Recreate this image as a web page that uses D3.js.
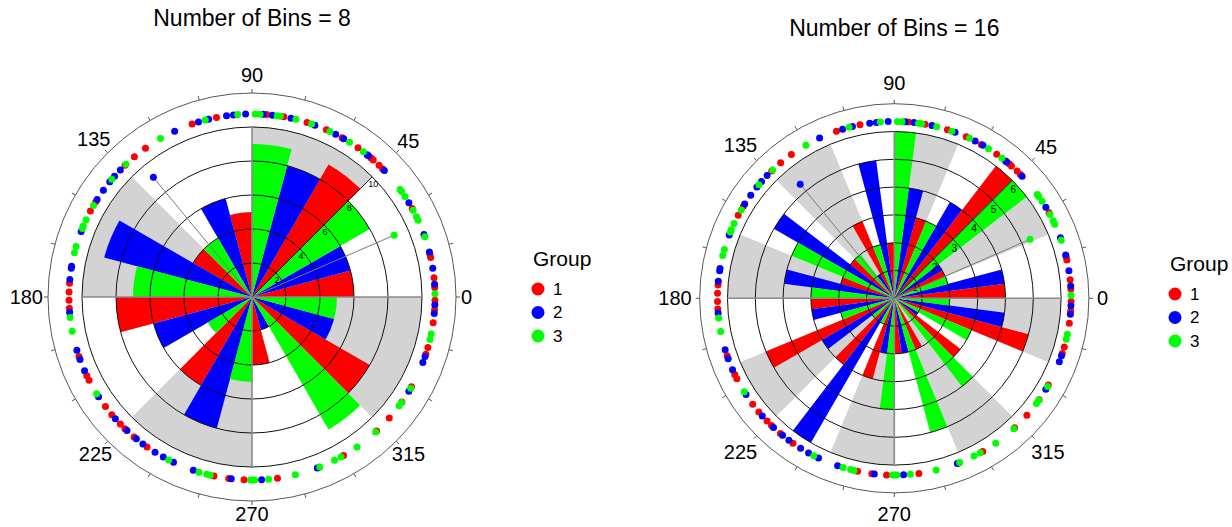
<!DOCTYPE html>
<html><head><meta charset="utf-8">
<script src="https://cdn.jsdelivr.net/npm/d3@7"></script>
<style>
body{margin:0;background:#fff}
svg{display:block}
text{font-family:"Liberation Sans",Arial,sans-serif;fill:#000}
</style>
</head><body>
<svg id="chart" width="1232" height="527"></svg>
<script>
// ---------- data ----------
const groupNames = ["1", "2", "3"];
const groupColors = ["#ff0000", "#0000ff", "#00ff00"];

// counts per bin (8 bins of 45 deg)
const red8   = [6, 9, 5, 4, 8, 6, 4, 8];
const blue8  = [6, 8, 6, 9, 6, 8, 2, 5];
const green8 = [8, 9, 4, 7, 3, 5, 9, 5];

// counts per bin (16 bins of 22.5 deg)
const red16   = [4, 2, 6, 3, 2, 3, 2, 2, 3, 5, 3, 3, 2, 2, 3, 5];
const blue16  = [4, 2, 4, 4, 5, 1, 5, 4, 3, 3, 6, 2, 2, 0, 1, 4];
const green16 = [2, 6, 3, 6, 2, 2, 4, 3, 2, 1, 1, 4, 5, 4, 3, 2];

// raw observations (degrees)
const redAngles = [3, 6, 12.5, 13.5, 28.9, 44.5, 46, 48.5, 49.4, 54.6, 60.5, 66,
  72.5, 80, 85.4, 101.2, 109.1, 125.6, 130, 133.9, 148.6, 152, 175.7, 178.4,
  181, 183.5, 199, 205.5, 207.1, 216.8, 220, 224, 226, 229.9, 235, 258, 262.7, 267.5,
  278, 291.5, 300, 312.9, 318.6, 325, 330.6, 341.8, 344, 351.9, 356, 359];
const blueAngles = [4, 9, 14.2, 20, 31, 43.7, 50.5, 51, 59.9, 62.8, 69.9, 77.7, 83.6, 86.5,
  92, 95.8, 98, 103.7, 107, 115, 136, 138.7, 141, 144.3, 147.8, 159, 170.3, 171, 174.5,
  184.8, 196.9, 200, 203.8, 213, 221.7, 226.9, 230.8, 233.4, 238, 241, 244.6,
  251.3, 263.5, 273, 290.9, 329, 339, 341, 354.8, 357.6];
const greenAngles = [1, 19.2, 24.8, 26, 28.3, 33.3, 35.2, 36, 52.5, 57.8, 64.8,
  71, 76.1, 81.1, 82.1, 87.5, 89, 94.5, 104.8, 120, 133.5, 140, 150, 155, 157.2,
  158, 164, 166, 186.4, 190.8, 211.9, 242.9, 253.2, 255.7, 256.8, 269.5,
  270.3, 270.8, 275.2, 283.7, 291.7, 296.8, 299.1, 305, 312.5, 323.5, 324.8, 330.1, 346.6, 348.3];

// mean direction markers (group 2 and 3)
const meanGroups = [1, 2];
const meanAngles = [129.5, 23.5];
const meanLengthFrac = [0.76, 0.76];

const angleTicks = [0, 45, 90, 135, 180, 225, 270, 315];
const minorAngleStep = 15;
const radialTicks8 = [2, 4, 6, 8, 10];
const radialTicks16 = [1, 2, 3, 4, 5, 6];

// ---------- drawing ----------
const svg = d3.select("#chart");
const rad = d => d * Math.PI / 180;

function drawRose(o) {
  const g = svg.append("g").attr("transform", `translate(${o.cx},${o.cy})`);
  const r = d3.scaleLinear().domain([0, o.max]).range([0, o.maxPx]);
  const outer = r(o.outerVal);
  const binW = 360 / o.counts[0].length;
  const sub = binW / 3;
  const arc = d3.arc().innerRadius(0);
  const pt = (deg, rr) => [rr * Math.cos(rad(deg)), -rr * Math.sin(rad(deg))];

  // grey alternating sectors
  const bins = d3.range(o.counts[0].length);
  g.selectAll("path.bg").data(bins.filter(i => i % 2 === 1)).join("path")
    .attr("d", i => arc({outerRadius: r(o.max), startAngle: rad(90 - (i + 1) * binW), endAngle: rad(90 - i * binW)}))
    .attr("fill", "#d3d3d3");

  // bars
  const bars = [];
  o.counts.forEach((arr, gi) => arr.forEach((v, i) => bars.push({gi, i, v})));
  g.selectAll("path.bar").data(bars).join("path")
    .attr("d", d => {
      const a0 = d.i * binW + d.gi * sub, a1 = a0 + sub;
      return arc({outerRadius: r(d.v), startAngle: rad(90 - a1), endAngle: rad(90 - a0)});
    })
    .attr("fill", d => groupColors[d.gi]);

  // rings
  g.selectAll("circle.ring").data(o.rTicks).join("circle")
    .attr("r", d => r(d)).attr("fill", "none").attr("stroke", "#111").attr("stroke-width", 1);

  // cross axes
  [0, 90, 180, 270].forEach(a => {
    const [x, y] = pt(a, r(o.max));
    g.append("line").attr("x1", 0).attr("y1", 0).attr("x2", x).attr("y2", y)
      .attr("stroke", "#8a8a8a").attr("stroke-width", 1.6);
  });
  // radial axis at 45
  {
    const [x, y] = pt(45, r(o.max));
    g.append("line").attr("x1", 0).attr("y1", 0).attr("x2", x).attr("y2", y)
      .attr("stroke", "#111").attr("stroke-width", 1);
  }
  g.selectAll("text.rt").data(o.rTicks).join("text")
    .attr("x", d => pt(45, r(d))[0] + 1)
    .attr("y", d => pt(45, r(d))[1] + o.rLabelDy)
    .attr("text-anchor", "middle").attr("dominant-baseline", "central")
    .attr("font-size", o.rLabelSize).attr("fill", "#222")
    .text(d => d);

  // outer circle and ticks
  g.append("circle").attr("r", outer).attr("fill", "none").attr("stroke", "#444").attr("stroke-width", 0.9);
  g.selectAll("line.tk").data(d3.range(0, 360, minorAngleStep)).join("line")
    .attr("x1", d => pt(d, outer)[0]).attr("y1", d => pt(d, outer)[1])
    .attr("x2", d => pt(d, outer + 4)[0]).attr("y2", d => pt(d, outer + 4)[1])
    .attr("stroke", "#444").attr("stroke-width", 0.9);

  g.selectAll("text.at").data(angleTicks).join("text")
    .attr("font-size", 20).attr("text-anchor", "middle").attr("dominant-baseline", "central")
    .text(d => d)
    .each(function (d) {
      const w = this.getComputedTextLength();
      const c = Math.cos(rad(d)), s = Math.sin(rad(d));
      const ext = c * c * w / 2 + s * s * (s > 0 ? o.topExt : o.bottomExt);
      const [x, y] = pt(d, outer + o.labelGap + ext);
      d3.select(this).attr("x", x).attr("y", y);
    });

  // observation dots
  const dotR = r(o.max) + o.dotOffset;
  o.angles.forEach((arr, gi) => {
    g.selectAll(null).data(arr).join("circle")
      .attr("cx", d => pt(d, dotR)[0]).attr("cy", d => pt(d, dotR)[1])
      .attr("r", 3.5).attr("fill", groupColors[gi]);
  });

  // mean lines
  meanGroups.forEach((gi, k) => {
    const [x, y] = pt(meanAngles[k], outer * meanLengthFrac[k]);
    g.append("line").attr("x1", 0).attr("y1", 0).attr("x2", x).attr("y2", y)
      .attr("stroke", "#7a7a7a").attr("stroke-width", 1);
    g.append("circle").attr("cx", x).attr("cy", y).attr("r", 3.5).attr("fill", groupColors[gi]);
  });

  // title
  svg.append("text").attr("x", o.cx).attr("y", o.titleY).attr("text-anchor", "middle")
    .attr("font-size", 23).text(o.title);

  // legend
  const lg = svg.append("g").attr("transform", `translate(${o.legX},${o.legY})`);
  lg.append("text").attr("x", 0).attr("y", 0).attr("font-size", 21).attr("dominant-baseline", "central").text("Group");
  groupNames.forEach((n, i) => {
    lg.append("circle").attr("cx", 5).attr("cy", 31 + i * 23.5).attr("r", 6.5).attr("fill", groupColors[i]);
    lg.append("text").attr("x", 20).attr("y", 31 + i * 23.5).attr("font-size", 17)
      .attr("dominant-baseline", "central").text(n);
  });
}

drawRose({
  cx: 252, cy: 297, max: 10, maxPx: 170, outerVal: 12,
  counts: [red8, blue8, green8], angles: [redAngles, blueAngles, greenAngles],
  rTicks: radialTicks8, rLabelDy: 7, rLabelSize: 9, labelGap: 5, topExt: 13, bottomExt: 8,
  dotOffset: 13,
  title: "Number of Bins = 8", titleY: 26, legX: 533, legY: 258
});
drawRose({
  cx: 894.3, cy: 298.3, max: 6, maxPx: 166.8, outerVal: 7,
  counts: [red16, blue16, green16], angles: [redAngles, blueAngles, greenAngles],
  rTicks: radialTicks16, rLabelDy: 9, rLabelSize: 10, labelGap: 8, topExt: 13, bottomExt: 13,
  dotOffset: 10,
  title: "Number of Bins = 16", titleY: 36, legX: 1170, legY: 263
});
</script>
</body></html>
